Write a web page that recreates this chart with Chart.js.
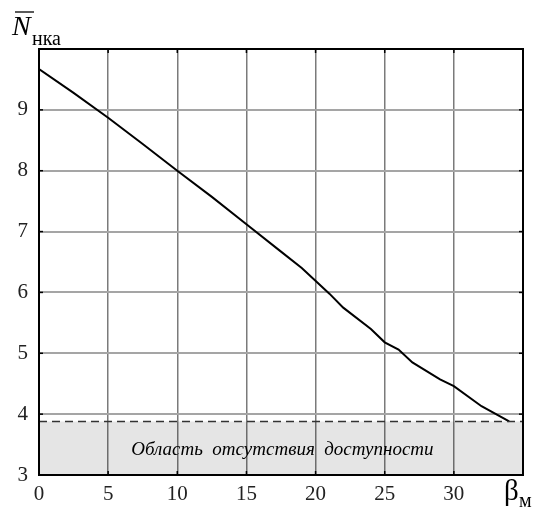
<!DOCTYPE html>
<html>
<head>
<meta charset="utf-8">
<script src="https://cdn.jsdelivr.net/npm/chart.js@4"></script>
<style>
  html, body { margin: 0; padding: 0; background: #fff; }
  #wrap { width: 537px; height: 511px; }
</style>
</head>
<body>
<div id="wrap"><canvas id="myChart" width="537" height="511"></canvas></div>
<script>
// beta_m values and mean number of visible satellites
const betaM = [0, 2.5, 5, 7.5, 10, 12.5, 15, 17.5, 19, 21, 22, 24, 25, 26, 27, 29, 30, 32, 34];
const nSat = [9.67, 9.28, 8.87, 8.44, 8.0, 7.57, 7.12, 6.67, 6.40, 5.98, 5.75, 5.40, 5.18, 5.06, 4.85, 4.57, 4.46, 4.13, 3.88];
// availability threshold (dashed line) and x range
const limitX = [0, 35];
const limitY = [3.88, 3.88];
const xTicks = [0, 5, 10, 15, 20, 25, 30];
const yTicks = [3, 4, 5, 6, 7, 8, 9];
const regionLabel = "Область  отсутствия  доступности";

const serif = "'Liberation Serif', 'Times New Roman', serif";

// frame, inner ticks, axis titles and region label
const decor = {
  id: "decor",
  afterDraw(chart) {
    const c = chart.ctx;
    const a = chart.chartArea;
    const sx = chart.scales.x, sy = chart.scales.y;
    c.save();
    c.strokeStyle = "#000";
    c.lineWidth = 2;
    c.strokeRect(a.left, a.top, a.right - a.left, a.bottom - a.top);
    c.lineWidth = 1.5;
    xTicks.forEach((v) => {
      const px = sx.getPixelForValue(v);
      c.beginPath(); c.moveTo(px, a.bottom); c.lineTo(px, a.bottom - 4); c.stroke();
      c.beginPath(); c.moveTo(px, a.top); c.lineTo(px, a.top + 4); c.stroke();
    });
    yTicks.forEach((v) => {
      const py = sy.getPixelForValue(v);
      c.beginPath(); c.moveTo(a.left, py); c.lineTo(a.left + 4, py); c.stroke();
      c.beginPath(); c.moveTo(a.right, py); c.lineTo(a.right - 4, py); c.stroke();
    });
    // region label
    c.fillStyle = "#000";
    c.font = "italic 19px " + serif;
    c.textAlign = "center";
    c.textBaseline = "middle";
    const ly = (sy.getPixelForValue(3) + sy.getPixelForValue(limitY[0])) / 2 + 2;
    c.fillText(regionLabel, sx.getPixelForValue(17.6), ly);
    // y title: N with overline, subscript
    c.textAlign = "left";
    c.textBaseline = "alphabetic";
    c.font = "italic 28px " + serif;
    c.fillText("N", 12, 35);
    c.lineWidth = 1.3;
    c.beginPath(); c.moveTo(15, 12); c.lineTo(34, 12); c.stroke();
    c.font = "20px " + serif;
    c.fillText("нка", 32, 45);
    // x title
    c.font = "29px " + serif;
    c.fillText("β", 504, 500);
    c.font = "20px " + serif;
    c.fillText("м", 519, 507);
    c.restore();
  },
};

new Chart(document.getElementById("myChart").getContext("2d"), {
  type: "scatter",
  data: {
    datasets: [
      {
        label: "limit",
        data: limitX.map((x, i) => ({ x: x, y: limitY[i] })),
        showLine: true,
        borderColor: "#333",
        borderWidth: 1.5,
        borderDash: [8, 5],
        backgroundColor: "rgba(0,0,0,0.1)",
        fill: "start",
        pointRadius: 0,
      },
      {
        label: "N",
        data: betaM.map((x, i) => ({ x: x, y: nSat[i] })),
        showLine: true,
        borderColor: "#000",
        borderWidth: 2,
        pointRadius: 0,
        tension: 0,
        fill: false,
      },
    ],
  },
  options: {
    responsive: false,
    animation: false,
    layout: { padding: { top: 49, right: 14, left: 0, bottom: 0 } },
    plugins: { legend: { display: false }, tooltip: { enabled: false } },
    scales: {
      x: {
        type: "linear",
        min: 0,
        max: 35,
        afterBuildTicks: (s) => { s.ticks = xTicks.concat([35]).map((v) => ({ value: v })); },
        afterFit: (s) => { s.height = 36; },
        border: { display: false },
        grid: { color: "#7a7a7a", lineWidth: 1.5, drawTicks: false },
        ticks: {
          color: "#222",
          padding: 7,
          font: { family: serif, size: 21 },
          callback: (v) => (v === 35 ? "" : v),
          maxRotation: 0,
        },
      },
      y: {
        type: "linear",
        min: 3,
        max: 10,
        afterBuildTicks: (s) => { s.ticks = yTicks.concat([10]).map((v) => ({ value: v })); },
        afterFit: (s) => { s.width = 39; },
        border: { display: false },
        grid: { color: "#a5a5a5", lineWidth: 2, drawTicks: false },
        ticks: {
          color: "#222",
          padding: 11,
          font: { family: serif, size: 21 },
          callback: (v) => (v === 10 ? "" : v),
        },
      },
    },
  },
  plugins: [decor],
});
</script>
</body>
</html>
